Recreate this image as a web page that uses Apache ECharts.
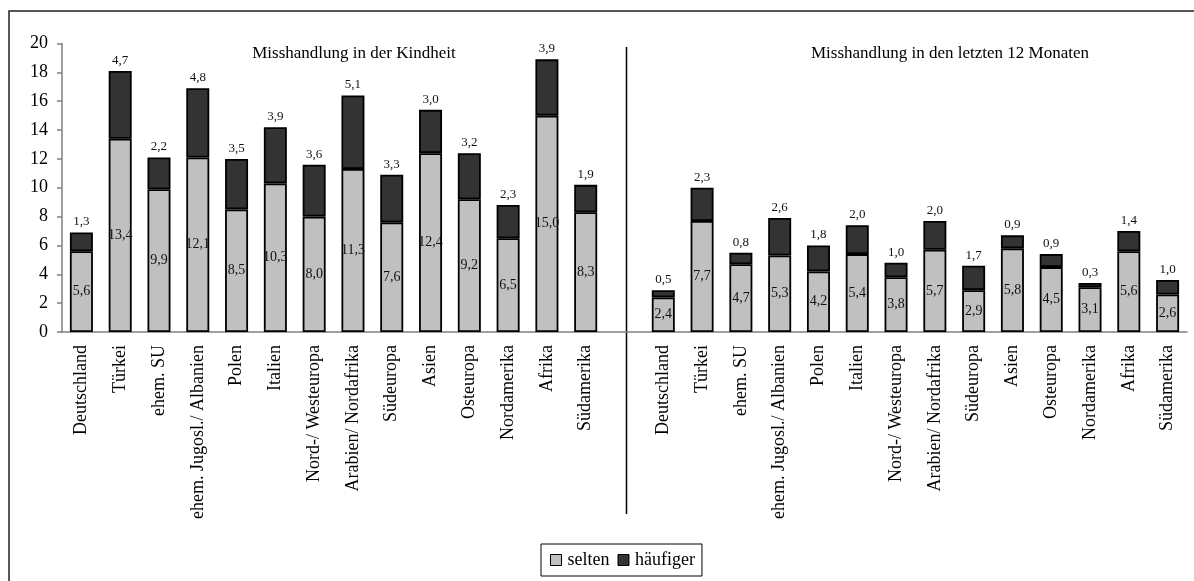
<!DOCTYPE html>
<html>
<head>
<meta charset="utf-8">
<script src="https://cdn.jsdelivr.net/npm/echarts@6/dist/echarts.min.js"></script>
<style>html,body{margin:0;padding:0;background:#fff}#c{width:1194px;height:581px}</style>
</head>
<body>
<div id="c"></div>
<script>
const regions = ['Deutschland','Türkei','ehem. SU','ehem. Jugosl./ Albanien','Polen','Italien','Nord-/ Westeuropa','Arabien/ Nordafrika','Südeuropa','Asien','Osteuropa','Nordamerika','Afrika','Südamerika'];
const kindheitSelten   = [5.6,13.4,9.9,12.1,8.5,10.3,8.0,11.3,7.6,12.4,9.2,6.5,15.0,8.3];
const kindheitHaeufig  = [1.3,4.7,2.2,4.8,3.5,3.9,3.6,5.1,3.3,3.0,3.2,2.3,3.9,1.9];
const monateSelten     = [2.4,7.7,4.7,5.3,4.2,5.4,3.8,5.7,2.9,5.8,4.5,3.1,5.6,2.6];
const monateHaeufig    = [0.5,2.3,0.8,2.6,1.8,2.0,1.0,2.0,1.7,0.9,0.9,0.3,1.4,1.0];
const yTicks = [0,2,4,6,8,10,12,14,16,18,20];
const panelTitles = ['Misshandlung in der Kindheit','Misshandlung in den letzten 12 Monaten'];
const seriesNames = ['selten','häufiger'];

const categories = regions.concat(['__gap__'], regions);
const seltenData = kindheitSelten.concat([null], monateSelten);
const haeufigData = kindheitHaeufig.concat([null], monateHaeufig);
const fmt = v => v.toFixed(1).replace('.', ',');
const serif = 'Liberation Serif';

const chart = echarts.init(document.getElementById('c'), null, {renderer:'canvas'});
chart.setOption({
  animation:false,
  backgroundColor:'#fff',
  textStyle:{fontFamily:serif},
  grid:{left:62, right:7, top:43.5, bottom:249, containLabel:false},
  legend:{
    left:541, top:544, width:163,
    padding:[7,7,7,9],
    borderColor:'#000', borderWidth:1,
    icon:'rect',
    itemWidth:11, itemHeight:11, itemGap:8,
    textStyle:{fontFamily:serif, fontSize:18, color:'#000', padding:[0,0,0,1]},
    itemStyle:{borderColor:'#000', borderWidth:1},
    data:seriesNames
  },
  xAxis:{
    type:'category', data:categories,
    axisLine:{lineStyle:{color:'#808080', width:1.5}},
    axisTick:{show:false},
    axisLabel:{
      rotate:90, interval:0, margin:13, fontFamily:serif, fontSize:18, color:'#000',
      formatter: v => v === '__gap__' ? '' : v
    }
  },
  yAxis:{
    type:'value', min:yTicks[0], max:yTicks[yTicks.length-1], interval:yTicks[1]-yTicks[0],
    splitLine:{show:false},
    axisLine:{show:true, lineStyle:{color:'#808080', width:1.5}},
    axisTick:{show:true, length:5, lineStyle:{color:'#808080', width:1.5}},
    axisLabel:{fontFamily:serif, fontSize:18, color:'#000', margin:14}
  },
  series:[
    {
      name:seriesNames[0], type:'bar', stack:'s', barWidth:23, data:seltenData,
      itemStyle:{color:'#c0c0c0', borderColor:'#000', borderWidth:1.8},
      label:{show:true, position:'inside', fontFamily:serif, fontSize:14, color:'#111',
        formatter:p => p.value == null ? '' : fmt(p.value)}
    },
    {
      name:seriesNames[1], type:'bar', stack:'s', barWidth:23, data:haeufigData,
      itemStyle:{color:'#333333', borderColor:'#000', borderWidth:1.8},
      label:{show:true, position:'top', distance:4, fontFamily:serif, fontSize:13, color:'#111',
        formatter:p => p.value == null ? '' : fmt(p.value)}
    }
  ]
});

const mid = chart.convertToPixel({xAxisIndex:0}, '__gap__');
chart.setOption({
  graphic:[
    {type:'rect', shape:{x:9, y:11, width:1200, height:600}, style:{fill:null, stroke:'#222', lineWidth:1.5}, silent:true, z:-1},
    {type:'line', shape:{x1:mid+2, y1:47, x2:mid+2, y2:514}, style:{stroke:'#000', lineWidth:1.5}},
    {type:'text', x:354, y:54, style:{text:panelTitles[0], font:'17px "Liberation Serif"', fill:'#000', align:'center', verticalAlign:'middle'}},
    {type:'text', x:950, y:54, style:{text:panelTitles[1], font:'17px "Liberation Serif"', fill:'#000', align:'center', verticalAlign:'middle'}}
  ]
});
</script>
</body>
</html>
